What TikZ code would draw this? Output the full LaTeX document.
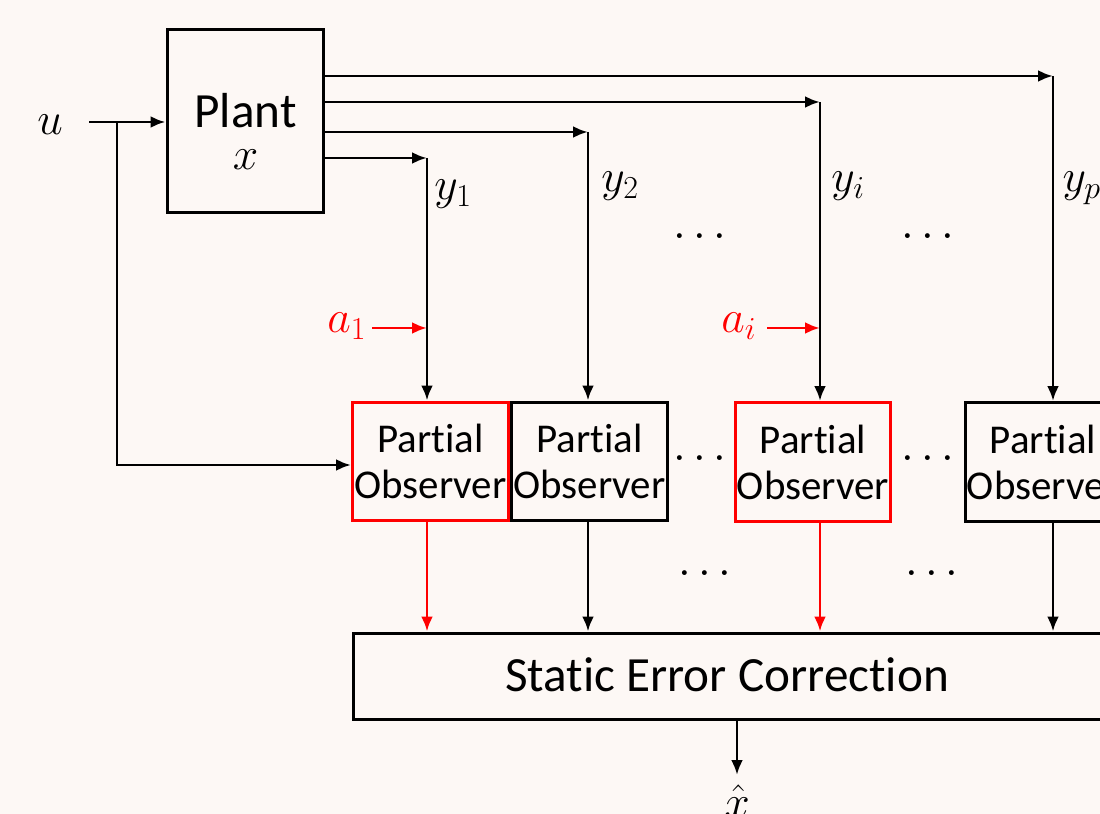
\RequirePackage{fix-cm}
\documentclass[tikz,border=0pt]{standalone}
\usepackage{fontspec}
\setmainfont{Carlito}[Ligatures=NoCommon]
\usetikzlibrary{arrows.meta}
\definecolor{bg}{RGB}{253,248,245}
\definecolor{myred}{RGB}{255,0,0}
\begin{document}
\begin{tikzpicture}[x=0.02cm,y=-0.02cm, line width=1.7pt,
  >={Latex[length=0.3cm,width=0.24cm]},
  box/.style={draw, line width=1.7pt, inner sep=0pt},
  redbox/.style={box, draw=myred},
  obs/.style={align=center, font=\fontsize{23.3}{26.2}\selectfont, minimum width=3.12cm, minimum height=2.38cm},
  lbl/.style={font=\fontsize{26}{30}\selectfont, inner sep=0pt},
  big/.style={font=\fontsize{28}{30}\selectfont, inner sep=0pt},
  redarrow/.style={->, draw=myred}]
\useasboundingbox[fill=bg] (0,0) rectangle (1100,814);
\clip (0,0) rectangle (1100,814);

% plant
\node[box, minimum width=3.14cm, minimum height=3.68cm] (plant) at (245.5,121) {};
\node[big, anchor=base] (plantname) at (245.5,128) {Plant};
\node[lbl, anchor=base] (plantx) at (245.5,170) {$x$};

% input
\node[lbl, anchor=base] (u) at (50,135) {$u$};
\coordinate (ustart) at (89,122);
\coordinate (ubranch) at (117,122);
\coordinate (uin) at (117,465);

% observers
\node[redbox, obs] (obs1) at (430.5,461.5) {Partial\\Observer};
\node[box, obs] (obs2) at (589.5,461.5) {Partial\\Observer};
\node[redbox, obs] (obs3) at (813,462) {Partial\\Observer};
\node[box, obs] (obs4) at (1043,462) {Partial\\Observer};

% static error correction
\node[box, minimum width=15.04cm, minimum height=1.74cm] (sec) at (729,676.5) {};
\node[big, anchor=base] (sectext) at (727,691) {Static Error Correction};

% corners of the plant outputs
\coordinate (c1) at (427,158);
\coordinate (c2) at (588,132);
\coordinate (c3) at (820,102);
\coordinate (c4) at (1053,76);

\draw[->] (ustart) -- (ustart -| plant.west);
\draw[->] (ubranch) -- (uin) -- (uin -| obs1.west);

\draw[->] (c1 -| plant.east) -- (c1);
\draw[->] (c2 -| plant.east) -- (c2);
\draw[->] (c3 -| plant.east) -- (c3);
\draw[->] (c4 -| plant.east) -- (c4);
\draw[->] (c1) -- (c1 |- obs1.north);
\draw[->] (c2) -- (c2 |- obs2.north);
\draw[->] (c3) -- (c3 |- obs3.north);
\draw[->] (c4) -- (c4 |- obs4.north);

% output labels
\node[lbl, anchor=base west] (ly1) at (433,200) {$y_1$};
\node[lbl, anchor=base west] (ly2) at (600,192) {$y_2$};
\node[lbl, anchor=base west] (lyi) at (830,192) {$y_i$};
\node[lbl, anchor=base west] (lyp) at (1061,192) {$y_p$};

% dots
\node[lbl, anchor=base] (d1) at (700,248) {$\cdots$};
\node[lbl, anchor=base] (d2) at (928,248) {$\cdots$};
\node[lbl, anchor=base] (d3) at (700,470) {$\cdots$};
\node[lbl, anchor=base] (d4) at (928,470) {$\cdots$};
\node[lbl, anchor=base] (d5) at (705,584) {$\cdots$};
\node[lbl, anchor=base] (d6) at (932,584) {$\cdots$};

% attack inputs
\node[lbl, anchor=base west, text=myred] (a1) at (326,333) {$a_1$};
\node[lbl, anchor=base west, text=myred] (ai) at (720,333) {$a_i$};
\coordinate (a1s) at (372,328);
\coordinate (ais) at (767,328);
\draw[redarrow] (a1s) -- (a1s -| c1);
\draw[redarrow] (ais) -- (ais -| c3);

% observers to correction
\draw[redarrow] (c1 |- obs1.south) -- (c1 |- sec.north);
\draw[->] (c2 |- obs2.south) -- (c2 |- sec.north);
\draw[redarrow] (c3 |- obs3.south) -- (c3 |- sec.north);
\draw[->] (c4 |- obs4.south) -- (c4 |- sec.north);

% output
\node[lbl, anchor=base] (xhat) at (737,817) {$\hat{x}$};
\coordinate (outend) at (737,775);
\draw[->] (outend |- sec.south) -- (outend);
\end{tikzpicture}
\end{document}
